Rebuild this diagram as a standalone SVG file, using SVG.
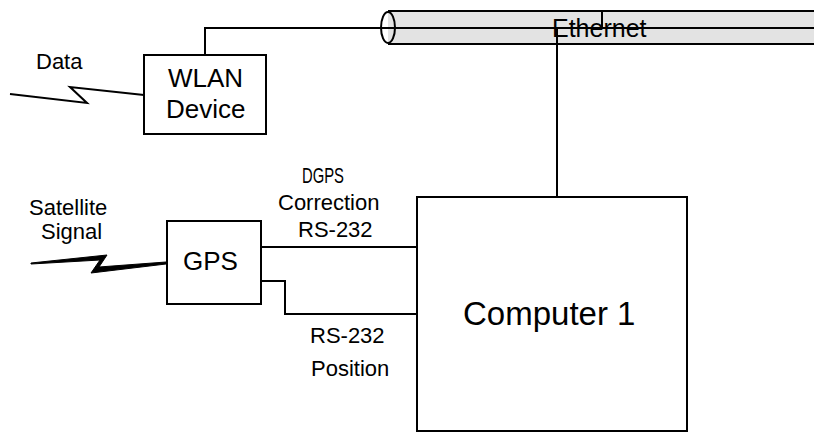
<svg xmlns="http://www.w3.org/2000/svg" width="814" height="433" viewBox="0 0 814 433">
<style>
.box{fill:#fff;stroke:#000;stroke-width:2}
.ln{fill:none;stroke:#000;stroke-width:2}
.t{font-family:"Liberation Sans",Arial,sans-serif;fill:#000}
.s{font-size:22px}
.m{font-size:26px}
</style>
<rect width="814" height="433" fill="#fff"/>
<g id="ethernet">
<rect x="388" y="11" width="428" height="33" fill="#e3e3e3" stroke="none"/>
<line class="ln" x1="388" y1="11" x2="814" y2="11"/>
<line class="ln" x1="388" y1="44" x2="814" y2="44"/>
<ellipse class="ln" cx="388" cy="27.5" rx="7" ry="15.5" stroke-width="2.5"/>
<text class="t" x="552" y="37" font-size="25">Ethernet</text>
</g>
<g id="connectors">
<polyline class="ln" points="205,55 205,28 814,28"/>
<line class="ln" x1="602" y1="11" x2="602" y2="28"/>
<line class="ln" x1="557" y1="28" x2="557" y2="197"/>
<line class="ln" x1="259" y1="247" x2="417" y2="247"/>
<polyline class="ln" points="259,281 285,281 285,314 417,314"/>
<polyline class="ln" points="10,94 87,103 70,87 144,95"/>
<polygon points="31,263 107,255 99,267 166,262 166,264 91,273 100,260 31,264" fill="#000" stroke="#000" stroke-width="1" stroke-linejoin="miter"/>
</g>
<g id="labels">
<text class="t s" x="36" y="69">Data</text>
<text class="t s" x="29" y="215">Satellite</text>
<text class="t s" x="41" y="239">Signal</text>
<text class="t s" x="302" y="183" textLength="42" lengthAdjust="spacingAndGlyphs">DGPS</text>
<text class="t s" x="278" y="210">Correction</text>
<text class="t s" x="298" y="237">RS-232</text>
<text class="t s" x="310" y="343">RS-232</text>
<text class="t s" x="311" y="376">Position</text>
</g>
<g id="wlan">
<rect class="box" x="144" y="55" width="122" height="79"/>
<text class="t m" x="168" y="87">WLAN</text>
<text class="t m" x="166" y="118">Device</text>
</g>
<g id="gps">
<rect class="box" x="167" y="221" width="94" height="83"/>
<text class="t m" x="183" y="270">GPS</text>
</g>
<g id="computer1">
<rect class="box" x="417" y="197" width="270" height="234"/>
<text class="t" x="463" y="325" font-size="33">Computer 1</text>
</g>
</svg>
